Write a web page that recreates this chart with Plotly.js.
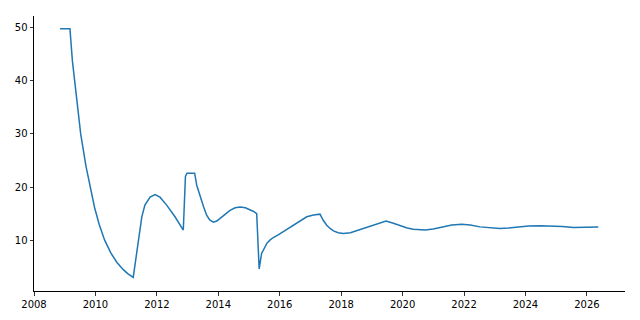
<!DOCTYPE html>
<html>
<head>
<meta charset="utf-8">
<script src="https://cdn.plot.ly/plotly-3.0.1.min.js"></script>
<style>html,body{margin:0;padding:0;background:#fff;}#chart{width:640px;height:320px;}</style>
</head>
<body>
<div id="chart"></div>
<script>
const years = [
  2008.85, 2009.17, 2009.25, 2009.39, 2009.52, 2009.69, 2009.83, 2009.97, 2010.12, 2010.3,
  2010.5, 2010.7, 2010.9, 2011.05, 2011.23, 2011.34, 2011.42, 2011.51, 2011.61, 2011.78,
  2011.94, 2012.10, 2012.32, 2012.59, 2012.86, 2012.93, 2012.98, 2013.23, 2013.3, 2013.41,
  2013.52, 2013.62, 2013.72, 2013.84, 2013.95, 2014.06, 2014.2, 2014.38, 2014.55, 2014.71,
  2014.88, 2015.03, 2015.15, 2015.25, 2015.33, 2015.41, 2015.5, 2015.58, 2015.68, 2015.79,
  2015.95, 2016.12, 2016.33, 2016.55, 2016.72, 2016.88, 2017.1, 2017.31, 2017.42, 2017.53,
  2017.65, 2017.75, 2017.9, 2018.07, 2018.3, 2018.62, 2018.85, 2019.05, 2019.3, 2019.46,
  2019.7, 2019.92, 2020.15, 2020.35, 2020.55, 2020.73, 2021.0, 2021.33, 2021.6, 2021.93,
  2022.2, 2022.52, 2022.85, 2023.17, 2023.45, 2023.72, 2024.1, 2024.48, 2024.9, 2025.2,
  2025.56, 2025.9, 2026.37
];
const values = [
  49.8, 49.8, 43.75, 36.25, 30.0, 24.0, 19.8, 16.2, 13.0, 10.0,
  7.6, 5.8, 4.5, 3.7, 3.0, 7.5, 10.6, 14.4, 16.6, 18.1,
  18.6, 18.1, 16.6, 14.4, 11.9, 22.0, 22.6, 22.6, 20.3, 18.1,
  16.3, 14.7, 13.8, 13.4, 13.6, 14.1, 14.8, 15.6, 16.1, 16.25,
  16.1, 15.75, 15.4, 15.0, 4.6, 7.5, 8.6, 9.4, 10.0, 10.5,
  11.0, 11.6, 12.35, 13.1, 13.8, 14.4, 14.75, 14.9, 13.7, 12.8,
  12.15, 11.75, 11.4, 11.25, 11.4, 12.0, 12.5, 12.95, 13.4, 13.6,
  13.2, 12.7, 12.3, 12.06, 11.93, 11.9, 12.1, 12.5, 12.85, 13.0,
  12.85, 12.5, 12.3, 12.2, 12.3, 12.5, 12.65, 12.7, 12.65, 12.55,
  12.4, 12.4, 12.5
];
const xTicks = [2008, 2010, 2012, 2014, 2016, 2018, 2020, 2022, 2024, 2026];
const yTicks = [10, 20, 30, 40, 50];

const trace = {
  x: years, y: values, type: 'scatter', mode: 'lines',
  line: {color: '#1f77b4', width: 1.5, shape: 'linear'}, hoverinfo: 'skip'
};
const axisCommon = {
  showgrid: false, zeroline: false, showline: true, linecolor: '#000', linewidth: 1,
  ticks: 'outside', ticklen: 3.5, tickwidth: 0.8, tickcolor: '#000',
  tickfont: {family: 'DejaVu Sans', size: 10, color: '#000'}
};
const layout = {
  width: 640, height: 320,
  margin: {l: 34, r: 15, t: 16, b: 29},
  paper_bgcolor: '#fff', plot_bgcolor: '#fff',
  showlegend: false,
  xaxis: Object.assign({}, axisCommon, {
    range: [2008, 2027.24], tickmode: 'array', tickvals: xTicks,
    ticktext: xTicks.map(String)
  }),
  yaxis: Object.assign({}, axisCommon, {
    range: [0.43, 52.2], tickmode: 'array', tickvals: yTicks,
    ticktext: yTicks.map(String)
  })
};
Plotly.newPlot('chart', [trace], layout, {staticPlot: true, displayModeBar: false});
</script>
</body>
</html>
